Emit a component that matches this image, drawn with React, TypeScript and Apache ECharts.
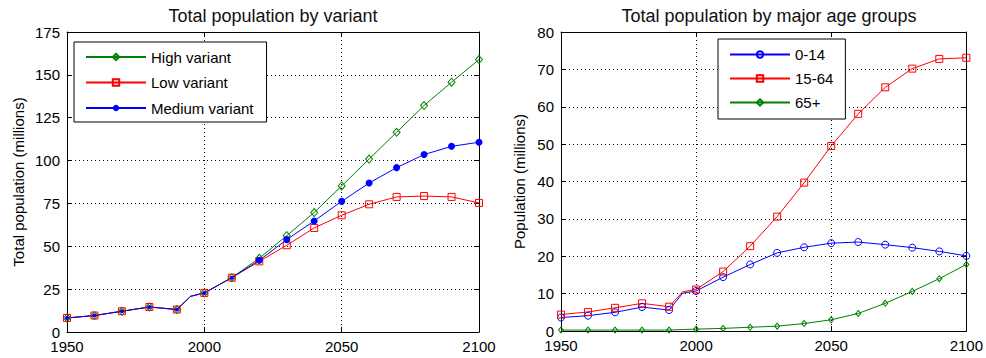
import React, { useEffect, useRef } from "react";
import * as echarts from "echarts";

// Sample years (1995 carries no marker, it only shapes the line)
const years = [1950, 1960, 1970, 1980, 1990, 1995, 2000, 2010, 2020, 2030, 2040, 2050, 2060, 2070, 2080, 2090, 2100];

// Total population by projection variant, millions
const highVariant = [8.2, 9.6, 12.1, 14.6, 13.1, 20.8, 22.8, 31.7, 43.0, 56.2, 69.7, 85.2, 100.9, 116.5, 132.1, 145.7, 158.9];
const lowVariant = [8.2, 9.6, 12.1, 14.6, 13.1, 20.8, 22.8, 31.7, 41.2, 50.6, 60.7, 68.1, 74.5, 78.8, 79.3, 78.8, 75.3];
const mediumVariant = [8.2, 9.6, 12.1, 14.6, 13.1, 20.8, 22.8, 31.7, 41.8, 53.9, 64.8, 76.2, 86.9, 95.9, 103.5, 108.3, 110.7];

// Population by major age group (medium variant), millions
const age0to14 = [3.6, 4.1, 5.0, 6.4, 5.6, 10.1, 10.7, 14.4, 17.8, 20.9, 22.4, 23.5, 23.8, 23.1, 22.3, 21.3, 20.1];
const age15to64 = [4.4, 5.1, 6.2, 7.4, 6.5, 10.5, 11.1, 15.9, 22.7, 30.6, 39.7, 49.5, 58.1, 65.2, 70.2, 72.8, 73.1];
const age65plus = [0.25, 0.25, 0.25, 0.25, 0.25, 0.4, 0.5, 0.7, 1.0, 1.3, 2.0, 3.0, 4.7, 7.4, 10.6, 14.0, 17.8];

const variantNames = ["High variant", "Low variant", "Medium variant"];
const ageNames = ["0-14", "15-64", "65+"];
const xTicks = { min: 1950, max: 2100, interval: 50 };
const leftY = { min: 0, max: 175, interval: 25 };
const rightY = { min: 0, max: 80, interval: 10 };

const FONT = "'Liberation Sans', Arial, Helvetica, sans-serif";
const GREEN = "#008000";
const RED = "#ff0000";
const BLUE = "#0000ff";

function points(values: number[]) {
  return years.map((yr, i) =>
    yr % 10 === 0 ? { value: [yr, values[i]] } : { value: [yr, values[i]], symbol: "none" }
  );
}

function xAxes(gridIndex: number) {
  const base = {
    gridIndex,
    type: "value",
    ...xTicks,
    axisLine: { show: true, onZero: false, lineStyle: { color: "#000", width: 1 } },
    axisTick: { show: true, inside: true, length: 5, lineStyle: { color: "#000" } },
  };
  return [
    {
      ...base,
      position: "bottom",
      axisLabel: {
        color: "#000",
        fontSize: 15,
        lineHeight: 12,
        fontFamily: FONT,
        margin: 8,
        formatter: (v: number) => String(v),
      },
      splitLine: { show: true, lineStyle: { color: "#000", type: [1, 3], width: 1 } },
    },
    {
      ...base,
      position: "top",
      axisLabel: { show: false },
      splitLine: { show: false },
    },
  ];
}

function yAxes(gridIndex: number, range: any, name: string, nameGap: number) {
  const base = {
    gridIndex,
    type: "value",
    ...range,
    axisLine: { show: true, onZero: false, lineStyle: { color: "#000", width: 1 } },
    axisTick: { show: true, inside: true, length: 5, lineStyle: { color: "#000" } },
  };
  return [
    {
      ...base,
      position: "left",
      name,
      nameLocation: "middle",
      nameGap,
      nameTextStyle: { color: "#000", fontSize: 15, fontFamily: FONT },
      axisLabel: { color: "#000", fontSize: 15, lineHeight: 12, fontFamily: FONT, margin: 7 },
      splitLine: { show: true, lineStyle: { color: "#000", type: [1, 3], width: 1 } },
    },
    {
      ...base,
      position: "right",
      axisLabel: { show: false },
      splitLine: { show: false },
    },
  ];
}

function lineSeries(name: string, values: number[], color: string, xIdx: number, yIdx: number, extra: any) {
  return {
    name,
    type: "line",
    xAxisIndex: xIdx,
    yAxisIndex: yIdx,
    data: points(values),
    lineStyle: { color, width: 1 },
    showAllSymbol: true,
    ...extra,
  };
}

function legendBox(data: string[], left: number, top: number, padding: number[], itemGap: number) {
  return {
    data,
    orient: "vertical",
    left,
    top,
    padding,
    itemWidth: 60,
    itemHeight: 8,
    itemGap,
    borderColor: "#000",
    borderWidth: 1,
    borderRadius: 0,
    backgroundColor: "#fff",
    selectedMode: false,
    textStyle: { fontSize: 15, lineHeight: 15, fontFamily: FONT, color: "#000" },
  };
}

export default function App() {
  const ref = useRef<HTMLDivElement>(null);

  useEffect(() => {
    if (!ref.current) return;
    const chart = echarts.init(ref.current, undefined, { renderer: "svg" });
    const hollow = (c: string) => ({ color: "rgba(0,0,0,0)", borderColor: c, borderWidth: 1 });

    chart.setOption({
      animation: false,
      backgroundColor: "#fff",
      textStyle: { fontFamily: FONT },
      title: [
        {
          text: "Total population by variant",
          left: 268,
          top: 2,
          textAlign: "center",
          textStyle: { fontSize: 18, fontWeight: "normal", color: "#111", fontFamily: FONT },
        },
        {
          text: "Total population by major age groups",
          left: 764,
          top: 2,
          textAlign: "center",
          textStyle: { fontSize: 18, fontWeight: "normal", color: "#111", fontFamily: FONT },
        },
      ],
      legend: [
        legendBox(variantNames, 74, 42, [7.5, 13, 6.5, 11], 10.5),
        legendBox(ageNames, 718, 39, [8, 12, 9, 11], 9),
      ],
      grid: [
        { left: 67, top: 32, width: 412, height: 300, containLabel: false },
        { left: 561, top: 32, width: 411, height: 299, containLabel: false },
      ],
      xAxis: [...xAxes(0), ...xAxes(1)],
      yAxis: [
        ...yAxes(0, leftY, "Total population (millions)", 41),
        ...yAxes(1, rightY, "Population (millions)", 34),
      ],
      series: [
        lineSeries(variantNames[0], highVariant, GREEN, 0, 0, {
          symbol: "diamond",
          symbolSize: [7, 8],
          itemStyle: hollow(GREEN),
        }),
        lineSeries(variantNames[1], lowVariant, RED, 0, 0, {
          symbol: "rect",
          symbolSize: 7,
          itemStyle: hollow(RED),
        }),
        lineSeries(variantNames[2], mediumVariant, BLUE, 0, 0, {
          symbol: "circle",
          symbolSize: (v: number[]) => (v[0] <= 2010 ? 4 : 7),
          itemStyle: { color: BLUE, borderColor: BLUE, borderWidth: 0 },
        }),
        lineSeries(ageNames[0], age0to14, BLUE, 2, 2, {
          symbol: "circle",
          symbolSize: 7,
          itemStyle: hollow(BLUE),
        }),
        lineSeries(ageNames[1], age15to64, RED, 2, 2, {
          symbol: "rect",
          symbolSize: 7,
          itemStyle: hollow(RED),
        }),
        lineSeries(ageNames[2], age65plus, GREEN, 2, 2, {
          symbol: "diamond",
          symbolSize: [5, 6],
          itemStyle: hollow(GREEN),
        }),
      ],
    });

    return () => chart.dispose();
  }, []);

  return (
    <div
      ref={ref}
      style={{ position: "absolute", left: 0, top: 0, width: 986, height: 358, background: "#fff" }}
    />
  );
}
